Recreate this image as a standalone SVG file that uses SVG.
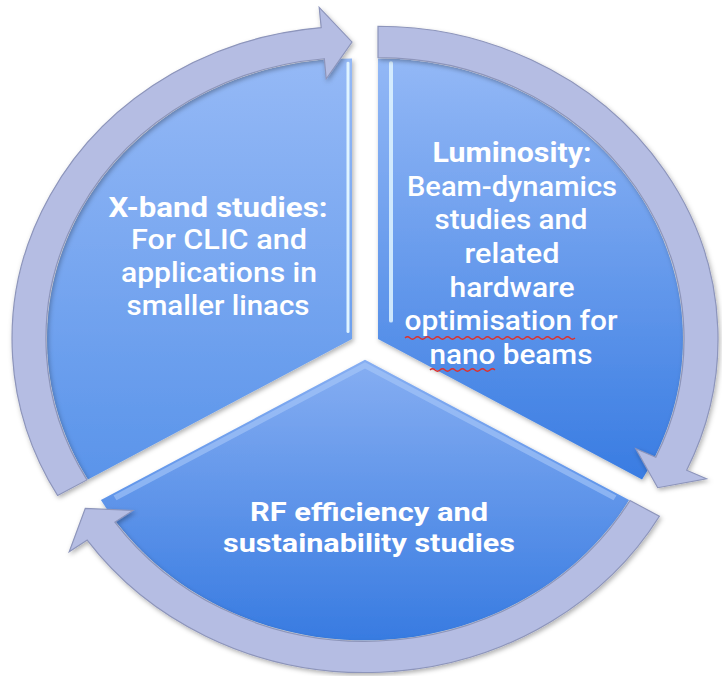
<svg xmlns="http://www.w3.org/2000/svg" width="722" height="676" viewBox="0 0 722 676">
<style>
.arrow{fill:#b5bde3;stroke:#8d95bb;stroke-width:1.2;filter:url(#sh)}
.sector{filter:url(#sh)}
.t{font-family:Roboto,"Liberation Sans",sans-serif;fill:#ffffff;font-size:27px;text-anchor:middle;font-weight:500}
.b{font-weight:bold}
.s{font-size:26px}
.hl{stroke:#dff4ff;stroke-linecap:round;fill:none}
.wave{fill:none;stroke:#e0302a;stroke-width:1.3}
</style>
<defs>
<filter id="sh" x="-10%" y="-10%" width="120%" height="120%">
<feDropShadow dx="1.5" dy="2.5" stdDeviation="2.5" flood-color="#000" flood-opacity="0.3"/>
</filter>
<linearGradient id="gL" x1="0" y1="0" x2="0" y2="1">
<stop offset="0" stop-color="#95b9f6"/><stop offset="1" stop-color="#5a94ea"/>
</linearGradient>
<linearGradient id="gR" x1="0" y1="0" x2="0" y2="1">
<stop offset="0" stop-color="#93b8f6"/><stop offset="1" stop-color="#397ce2"/>
</linearGradient>
<linearGradient id="gB" x1="0" y1="0" x2="0" y2="1">
<stop offset="0" stop-color="#86aef2"/><stop offset="1" stop-color="#387be1"/>
</linearGradient>
</defs>
<g id="ring" transform="translate(365 346) scale(1 0.92)">
<g id="sector-left" transform="translate(-13 -7.5)">
<path class="sector" fill="url(#gL)" d="M0 0 L-264.1 152.5 A305 305 0 0 1 0 -305 Z"/>
<line class="hl" x1="-4" y1="-8" x2="-4" y2="-300" stroke-width="3"/>
</g>
<g id="sector-right" transform="translate(13 -7.5)">
<path class="sector" fill="url(#gR)" d="M0 0 L0 -305 A305 305 0 0 1 264.1 152.5 Z"/>
<line class="hl" x1="13" y1="-20" x2="13" y2="-300" stroke-width="4" opacity="0.85"/>
</g>
<g id="sector-bottom" transform="translate(0 15)">
<path class="sector" fill="url(#gB)" d="M0 0 L264.1 152.5 A305 305 0 0 1 -264.1 152.5 Z"/>
<path d="M-250 150 L0 6 L250 150" fill="none" stroke="#a9c8f8" stroke-width="6" opacity="0.6"/>
</g>
<g id="connectors">
<path class="arrow" transform="translate(13 -7.5)" d="M0 -340 A340 340 0 0 1 308.65 142.63 L328.6 151.9 L279.7 161.5 L257.8 119.1 L277.8 128.4 A306 306 0 0 0 0 -306 Z"/>
<path class="arrow" transform="translate(0 15)" d="M294.4 170 A340 340 0 0 1 -277.8 196.0 L-295.8 208.6 L-279.7 161.5 L-232.0 163.7 L-250.1 176.4 A306 306 0 0 0 265.0 153 Z"/>
<path class="arrow" transform="translate(-13 -7.5)" d="M-294.4 170 A340 340 0 0 1 -30.8 -338.6 L-32.8 -360.5 L0 -323 L-25.8 -282.8 L-27.7 -304.8 A306 306 0 0 0 -265.0 153 Z"/>
</g>
</g>
<g id="label-left">
<text class="t b" x="218" y="217" textLength="219" lengthAdjust="spacingAndGlyphs">X-band studies:</text>
<text class="t" x="219" y="249" textLength="176" lengthAdjust="spacingAndGlyphs">For CLIC and</text>
<text class="t" x="219" y="282" textLength="196" lengthAdjust="spacingAndGlyphs">applications in</text>
<text class="t" x="218" y="315" textLength="183" lengthAdjust="spacingAndGlyphs">smaller linacs</text>
</g>
<g id="label-right">
<text class="t b" x="512" y="162" textLength="159" lengthAdjust="spacingAndGlyphs">Luminosity:</text>
<text class="t" x="512" y="196" textLength="210" lengthAdjust="spacingAndGlyphs">Beam-dynamics</text>
<text class="t" x="511" y="229" textLength="153" lengthAdjust="spacingAndGlyphs">studies and</text>
<text class="t" x="512" y="263" textLength="95" lengthAdjust="spacingAndGlyphs">related</text>
<text class="t" x="512" y="297" textLength="125" lengthAdjust="spacingAndGlyphs">hardware</text>
<text class="t" x="511" y="330" textLength="213" lengthAdjust="spacingAndGlyphs">optimisation for</text>
<text class="t" x="511" y="364" textLength="163" lengthAdjust="spacingAndGlyphs">nano beams</text>
<path class="wave" d="M405 338 q2.5 -2.5 5 0 t5 0 t5 0 t5 0 t5 0 t5 0 t5 0 t5 0 t5 0 t5 0 t5 0 t5 0 t5 0 t5 0 t5 0 t5 0 t5 0 t5 0 t5 0 t5 0 t5 0 t5 0 t5 0 t5 0 t5 0 t5 0 t5 0 t5 0 t5 0 t5 0 t5 0 t5 0 t5 0 t5 0"/>
<path class="wave" d="M430 370 q2.5 -2.5 5 0 t5 0 t5 0 t5 0 t5 0 t5 0 t5 0 t5 0 t5 0 t5 0 t5 0 t5 0 t5 0"/>
</g>
<g id="label-bottom">
<text class="t b s" x="369" y="521" textLength="238" lengthAdjust="spacingAndGlyphs">RF efficiency and</text>
<text class="t b s" x="369" y="552" textLength="292" lengthAdjust="spacingAndGlyphs">sustainability studies</text>
</g>
</svg>
